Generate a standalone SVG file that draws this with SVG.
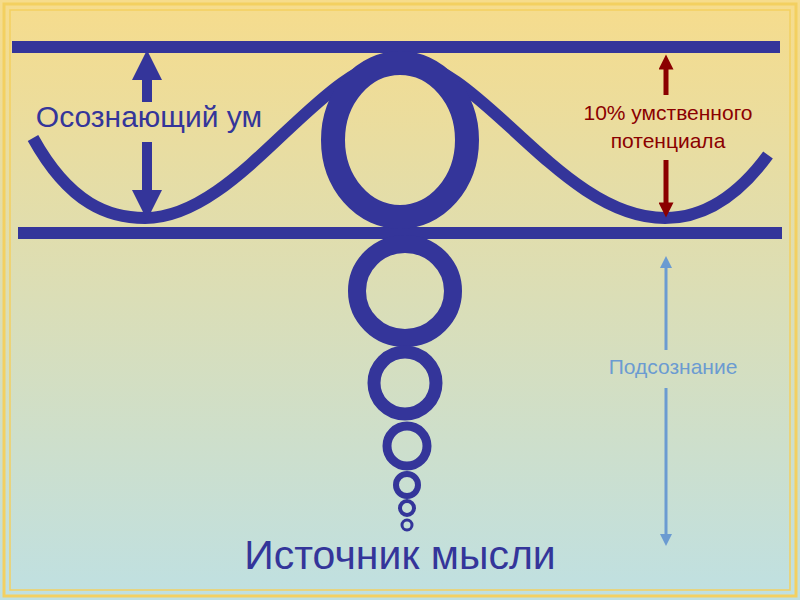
<svg xmlns="http://www.w3.org/2000/svg" width="800" height="600" viewBox="0 0 800 600">
<defs>
<linearGradient id="bg" x1="0" y1="0" x2="0" y2="1"><stop offset="0" stop-color="#f6dc8c"/><stop offset="1" stop-color="#bfe0e2"/></linearGradient>
<marker id="ab" viewBox="0 0 10 10" refX="5" refY="5" markerWidth="3" markerHeight="3" orient="auto-start-reverse"><path d="M0,0L10,5L0,10z" fill="#34359a"/></marker>
<marker id="ar" viewBox="0 0 10 10" refX="5" refY="5" markerWidth="3.5" markerHeight="3" orient="auto-start-reverse"><path d="M0,0L10,5L0,10z" fill="#8b0000"/></marker>
<marker id="al" viewBox="0 0 10 10" refX="5" refY="5" markerWidth="5" markerHeight="4" orient="auto-start-reverse"><path d="M0,0L10,5L0,10z" fill="#6b9bd1"/></marker>
</defs>
<style>.s{fill:none;stroke:#34359a;stroke-width:12}.t{font-family:"Liberation Sans",Arial,sans-serif;text-anchor:middle}</style>
<rect width="800" height="600" fill="url(#bg)"/>
<rect x="4" y="4" width="792" height="592" fill="none" stroke="#f3d060" stroke-width="3"/>
<rect x="10" y="10" width="780" height="580" fill="none" stroke="#f3d060" stroke-width="1.5"/>
<g id="lines"><line class="s" x1="12" y1="47" x2="780" y2="47"/><line class="s" x1="18" y1="233" x2="782" y2="233"/></g>
<g id="wave"><path class="s" d="M33,138 C70,205 110,218 145,218 C240,218 320,60 400,60 C480,60 560,218 665,218 C700,218 735,200 768,155"/></g>
<g id="circles" class="s">
<ellipse cx="400" cy="140" rx="67" ry="77" stroke-width="24"/>
<ellipse cx="405" cy="291" rx="48" ry="47" stroke-width="18"/>
<ellipse cx="405" cy="383" rx="31" ry="31" stroke-width="13"/>
<ellipse cx="407" cy="446" rx="20" ry="20" stroke-width="9"/>
<ellipse cx="407" cy="485" rx="11" ry="11" stroke-width="6"/>
<ellipse cx="407" cy="508" rx="7" ry="7" stroke-width="4"/>
<ellipse cx="407" cy="525" rx="5" ry="5" stroke-width="3"/>
</g>
<g id="arrows">
<line x1="147" y1="102" x2="147" y2="65" stroke="#34359a" stroke-width="10" marker-end="url(#ab)"/>
<line x1="147" y1="142" x2="147" y2="205" stroke="#34359a" stroke-width="10" marker-end="url(#ab)"/>
<line x1="666" y1="95" x2="666" y2="62" stroke="#8b0000" stroke-width="5" marker-end="url(#ar)"/>
<line x1="666" y1="160" x2="666" y2="210" stroke="#8b0000" stroke-width="5" marker-end="url(#ar)"/>
<line x1="666" y1="350" x2="666" y2="262" stroke="#6b9bd1" stroke-width="3" marker-end="url(#al)"/>
<line x1="666" y1="388" x2="666" y2="540" stroke="#6b9bd1" stroke-width="3" marker-end="url(#al)"/>
</g>
<g id="labels">
<text class="t" x="149" y="127" font-size="30" fill="#34359a">Осознающий ум</text>
<text class="t" x="668" y="120" font-size="21" fill="#8b0000">10% умственного</text>
<text class="t" x="668" y="148" font-size="21" fill="#8b0000">потенциала</text>
<text class="t" x="673" y="374" font-size="21" fill="#6b9bd1">Подсознание</text>
<text class="t" x="400" y="569" font-size="41" fill="#34359a">Источник мысли</text>
</g>
</svg>
